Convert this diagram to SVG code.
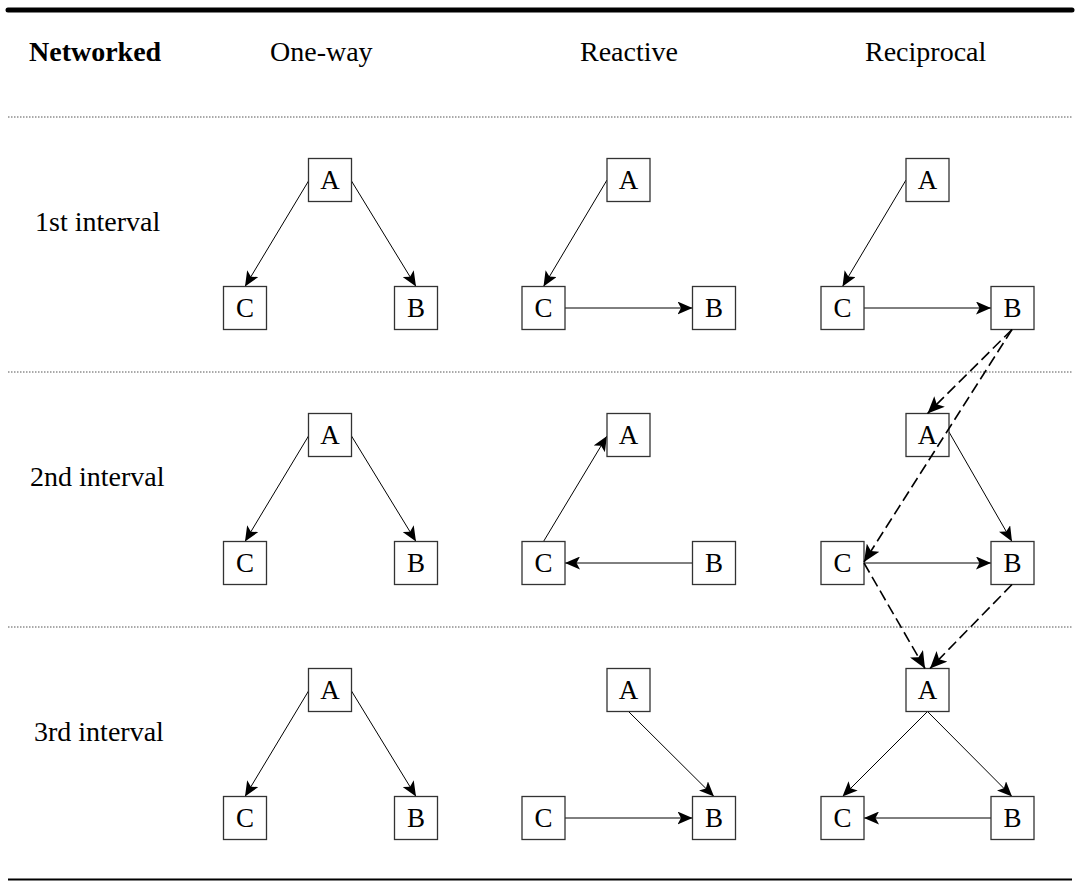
<svg xmlns="http://www.w3.org/2000/svg" width="1080" height="881" viewBox="0 0 1080 881">
<style>
.hdr{font-family:"Liberation Serif","Times New Roman",serif;font-size:28px;fill:#000}
.bold{font-weight:bold}
.box rect{fill:#fff;stroke:#333;stroke-width:1.3}
.box text{font-family:"Liberation Serif","Times New Roman",serif;font-size:27px;fill:#000;text-anchor:middle}
.sep{stroke:#555;stroke-width:1;stroke-dasharray:1.5 1.5}
.c{stroke:#000;stroke-width:1;fill:none;marker-end:url(#ah)}
.d{stroke:#000;stroke-width:1.6;fill:none;stroke-dasharray:11 5;marker-end:url(#ahd)}
</style>
<defs>
<marker id="ah" markerUnits="userSpaceOnUse" markerWidth="15" markerHeight="13" viewBox="0 0 15 13" refX="15" refY="6.5" orient="auto">
<path d="M0,0 L15,6.5 L0,13 L3.5,6.5 z" fill="#000"/>
</marker>
<marker id="ahd" markerUnits="userSpaceOnUse" markerWidth="17" markerHeight="15" viewBox="0 0 17 15" refX="17" refY="7.5" orient="auto">
<path d="M0,0 L17,7.5 L0,15 L4,7.5 z" fill="#000"/>
</marker>
</defs>
<rect width="1080" height="881" fill="#fff"/>
<line x1="8" y1="10" x2="1072" y2="10" stroke="#000" stroke-width="5" stroke-linecap="round"/>
<line x1="8" y1="879.5" x2="1072" y2="879.5" stroke="#000" stroke-width="2"/>
<line class="sep" x1="8" y1="117" x2="1072" y2="117"/>
<line class="sep" x1="8" y1="372" x2="1072" y2="372"/>
<line class="sep" x1="8" y1="627" x2="1072" y2="627"/>
<g id="headers">
<text class="hdr bold" x="29" y="61">Networked</text>
<text class="hdr" x="270" y="61">One-way</text>
<text class="hdr" x="580" y="61">Reactive</text>
<text class="hdr" x="865" y="61">Reciprocal</text>
<text class="hdr" x="35" y="231">1st interval</text>
<text class="hdr" x="30" y="486">2nd interval</text>
<text class="hdr" x="34" y="741">3rd interval</text>
</g>
<g id="connectors">
<line class="c" x1="308.5" y1="181" x2="245" y2="286.5"/>
<line class="c" x1="351.5" y1="181" x2="416" y2="286.5"/>
<line class="c" x1="308.5" y1="436" x2="245" y2="541.5"/>
<line class="c" x1="351.5" y1="436" x2="416" y2="541.5"/>
<line class="c" x1="308.5" y1="691" x2="245" y2="796.5"/>
<line class="c" x1="351.5" y1="691" x2="416" y2="796.5"/>
<line class="c" x1="607" y1="180" x2="543.5" y2="286.5"/>
<line class="c" x1="565" y1="308" x2="692.5" y2="308"/>
<line class="c" x1="543.5" y1="541.5" x2="607" y2="436"/>
<line class="c" x1="692.5" y1="563" x2="565" y2="563"/>
<line class="c" x1="628.5" y1="711.5" x2="714" y2="796.5"/>
<line class="c" x1="565" y1="818" x2="692.5" y2="818"/>
<line class="c" x1="906" y1="180" x2="842.5" y2="286.5"/>
<line class="c" x1="864" y1="308" x2="991" y2="308"/>
<line class="c" x1="949" y1="432" x2="1012" y2="541.5"/>
<line class="c" x1="864" y1="563" x2="991" y2="563"/>
<line class="c" x1="927.5" y1="711.5" x2="842.5" y2="796.5"/>
<line class="c" x1="927.5" y1="711.5" x2="1012" y2="796.5"/>
<line class="c" x1="991" y1="818" x2="864" y2="818"/>
</g>
<g id="n-ow1-A" class="box"><rect x="308.5" y="158.5" width="43" height="43"/><text x="330" y="189">A</text></g>
<g id="n-ow1-C" class="box"><rect x="223.5" y="286.5" width="43" height="43"/><text x="245" y="317">C</text></g>
<g id="n-ow1-B" class="box"><rect x="394.5" y="286.5" width="43" height="43"/><text x="416" y="317">B</text></g>
<g id="n-ow2-A" class="box"><rect x="308.5" y="413.5" width="43" height="43"/><text x="330" y="444">A</text></g>
<g id="n-ow2-C" class="box"><rect x="223.5" y="541.5" width="43" height="43"/><text x="245" y="572">C</text></g>
<g id="n-ow2-B" class="box"><rect x="394.5" y="541.5" width="43" height="43"/><text x="416" y="572">B</text></g>
<g id="n-ow3-A" class="box"><rect x="308.5" y="668.5" width="43" height="43"/><text x="330" y="699">A</text></g>
<g id="n-ow3-C" class="box"><rect x="223.5" y="796.5" width="43" height="43"/><text x="245" y="827">C</text></g>
<g id="n-ow3-B" class="box"><rect x="394.5" y="796.5" width="43" height="43"/><text x="416" y="827">B</text></g>
<g id="n-re1-A" class="box"><rect x="607" y="158.5" width="43" height="43"/><text x="628.5" y="189">A</text></g>
<g id="n-re1-C" class="box"><rect x="522" y="286.5" width="43" height="43"/><text x="543.5" y="317">C</text></g>
<g id="n-re1-B" class="box"><rect x="692.5" y="286.5" width="43" height="43"/><text x="714" y="317">B</text></g>
<g id="n-re2-A" class="box"><rect x="607" y="413.5" width="43" height="43"/><text x="628.5" y="444">A</text></g>
<g id="n-re2-C" class="box"><rect x="522" y="541.5" width="43" height="43"/><text x="543.5" y="572">C</text></g>
<g id="n-re2-B" class="box"><rect x="692.5" y="541.5" width="43" height="43"/><text x="714" y="572">B</text></g>
<g id="n-re3-A" class="box"><rect x="607" y="668.5" width="43" height="43"/><text x="628.5" y="699">A</text></g>
<g id="n-re3-C" class="box"><rect x="522" y="796.5" width="43" height="43"/><text x="543.5" y="827">C</text></g>
<g id="n-re3-B" class="box"><rect x="692.5" y="796.5" width="43" height="43"/><text x="714" y="827">B</text></g>
<g id="n-rc1-A" class="box"><rect x="906" y="158.5" width="43" height="43"/><text x="927.5" y="189">A</text></g>
<g id="n-rc1-C" class="box"><rect x="821" y="286.5" width="43" height="43"/><text x="842.5" y="317">C</text></g>
<g id="n-rc1-B" class="box"><rect x="991" y="286.5" width="43" height="43"/><text x="1012.5" y="317">B</text></g>
<g id="n-rc2-A" class="box"><rect x="906" y="413.5" width="43" height="43"/><text x="927.5" y="444">A</text></g>
<g id="n-rc2-C" class="box"><rect x="821" y="541.5" width="43" height="43"/><text x="842.5" y="572">C</text></g>
<g id="n-rc2-B" class="box"><rect x="991" y="541.5" width="43" height="43"/><text x="1012.5" y="572">B</text></g>
<g id="n-rc3-A" class="box"><rect x="906" y="668.5" width="43" height="43"/><text x="927.5" y="699">A</text></g>
<g id="n-rc3-C" class="box"><rect x="821" y="796.5" width="43" height="43"/><text x="842.5" y="827">C</text></g>
<g id="n-rc3-B" class="box"><rect x="991" y="796.5" width="43" height="43"/><text x="1012.5" y="827">B</text></g>
<g id="dashed-connectors">
<line class="d" x1="1012" y1="329.5" x2="927.5" y2="413.5"/>
<line class="d" x1="1012" y1="329.5" x2="864" y2="562"/>
<line class="d" x1="864" y1="563" x2="925" y2="668.5"/>
<line class="d" x1="1012" y1="584.5" x2="930" y2="668.5"/>
</g>
</svg>
